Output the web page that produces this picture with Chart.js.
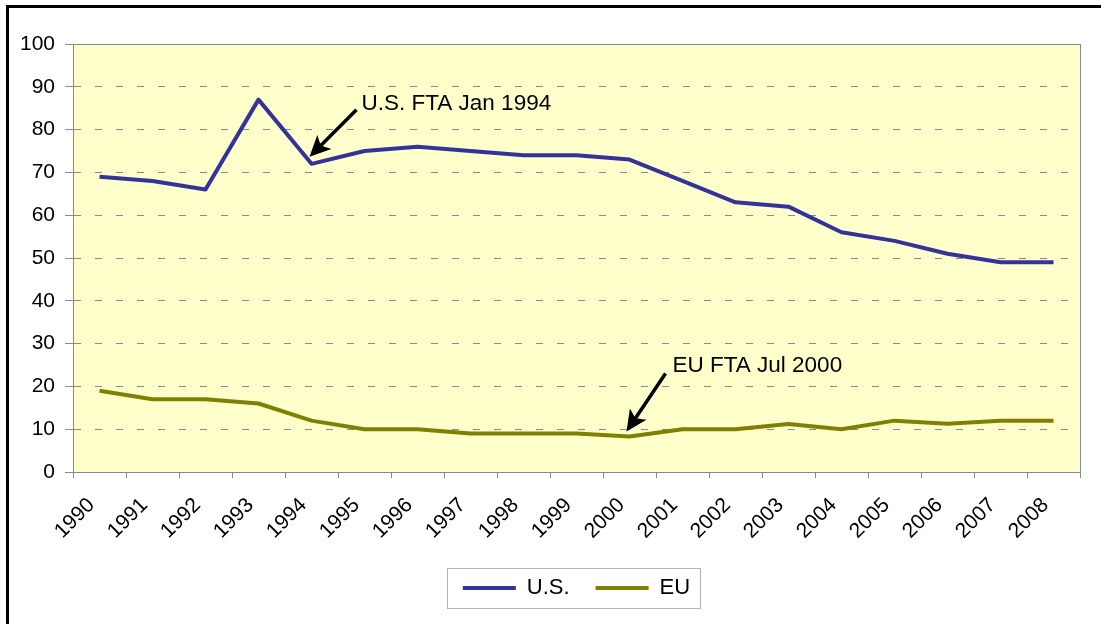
<!DOCTYPE html>
<html>
<head>
<meta charset="utf-8">
<script src="https://cdn.jsdelivr.net/npm/chart.js@4/dist/chart.umd.min.js"></script>
<style>
    html, body { margin: 0; padding: 0; background: #fff; }
    #wrap { position: relative; width: 1101px; height: 624px; overflow: hidden; }
    #frame { position: absolute; left: 6px; top: 5px; width: 1200px; height: 700px;
             border-left: 3px solid #000; border-top: 3px solid #000; pointer-events: none; }
    canvas { position: absolute; left: 0; top: 0; }
</style>
</head>
<body>
<div id="wrap">
    <canvas id="shareChart" width="1101" height="624"></canvas>
    <div id="frame"></div>
</div>
<script>
// Data
const years = ['1990', '1991', '1992', '1993', '1994', '1995', '1996', '1997', '1998', '1999',
               '2000', '2001', '2002', '2003', '2004', '2005', '2006', '2007', '2008'];
const usShare = [69, 68, 66, 87, 72, 75, 76, 75, 74, 74, 73, 68, 63, 62, 56, 54, 51, 49, 49];
const euShare = [19, 17, 17, 16, 12, 10, 10, 9, 9, 9, 8.3, 10, 10, 11.2, 10, 12, 11.3, 12, 12];
const yMin = 0;
const yMax = 100;
const yStep = 10;

// Annotation texts and which point each arrow points at
const notes = [
    { text: 'U.S. FTA Jan 1994', dataset: 0, year: '1994' },
    { text: 'EU FTA Jul 2000', dataset: 1, year: '2000' }
];
// pixel offsets (tip, tail, label) relative to the pointed data point
const noteLayout = [
    { tip: [-2, -7], tail: [45, -54], label: [50, -60] },
    { tip: [-3, -5], tail: [36, -63], label: [43, -71] }
];

const FONT = "'Liberation Sans', Arial, sans-serif";
const AXIS_GRAY = '#8a8a8a';

// Pale yellow plot area with a thin grey frame
const plotArea = {
    id: 'plotArea',
    beforeDraw(chart) {
        const { ctx, chartArea: a } = chart;
        ctx.save();
        ctx.fillStyle = '#FFFFCC';
        ctx.fillRect(a.left, a.top, a.right - a.left, a.bottom - a.top);
        ctx.restore();
    },
    beforeDatasetsDraw(chart) {
        const { ctx, chartArea: a } = chart;
        ctx.save();
        ctx.strokeStyle = AXIS_GRAY;
        ctx.lineWidth = 1;
        ctx.strokeRect(a.left + 0.5, a.top + 0.5, a.right - a.left, a.bottom - a.top);
        ctx.restore();
    }
};

// Arrows with their labels
const arrowNotes = {
    id: 'arrowNotes',
    afterDatasetsDraw(chart) {
        const { ctx } = chart;
        const xs = chart.scales.x, ys = chart.scales.y;
        notes.forEach((n, i) => {
            const lay = noteLayout[i];
            const idx = years.indexOf(n.year);
            const val = chart.data.datasets[n.dataset].data[idx];
            const px = xs.getPixelForValue(idx), py = ys.getPixelForValue(val);
            const tipX = px + lay.tip[0], tipY = py + lay.tip[1];
            const tailX = px + lay.tail[0], tailY = py + lay.tail[1];
            const ang = Math.atan2(tipY - tailY, tipX - tailX);
            const cos = Math.cos(ang), sin = Math.sin(ang);
            const headLen = 21, headHalf = 10, notch = 5;
            ctx.save();
            ctx.strokeStyle = '#000';
            ctx.fillStyle = '#000';
            ctx.lineWidth = 3.5;
            ctx.beginPath();
            ctx.moveTo(tailX, tailY);
            ctx.lineTo(tipX - cos * (headLen - notch), tipY - sin * (headLen - notch));
            ctx.stroke();
            const bx = tipX - cos * headLen, by = tipY - sin * headLen;
            ctx.beginPath();
            ctx.moveTo(tipX, tipY);
            ctx.lineTo(bx + sin * headHalf, by - cos * headHalf);
            ctx.lineTo(tipX - cos * (headLen - notch), tipY - sin * (headLen - notch));
            ctx.lineTo(bx - sin * headHalf, by + cos * headHalf);
            ctx.closePath();
            ctx.fill();
            ctx.font = '22.5px ' + FONT;
            ctx.textAlign = 'left';
            ctx.textBaseline = 'middle';
            ctx.fillText(n.text, px + lay.label[0], py + lay.label[1]);
            ctx.restore();
        });
    }
};

// Grey frame round the legend
const legendFrame = {
    id: 'legendFrame',
    afterDraw(chart) {
        const boxes = chart.legend.legendHitBoxes;
        if (!boxes || !boxes.length) return;
        const first = boxes[0], last = boxes[boxes.length - 1];
        const left = first.left - 16, right = last.left + last.width + 10;
        const mid = first.top + first.height / 2;
        const { ctx } = chart;
        ctx.save();
        ctx.strokeStyle = '#b5b5b5';
        ctx.lineWidth = 1;
        ctx.strokeRect(Math.round(left) + 0.5, Math.round(mid - 20) + 0.5, Math.round(right - left), 40);
        ctx.restore();
    }
};

const ctx = document.getElementById('shareChart').getContext('2d');
new Chart(ctx, {
    type: 'line',
    data: {
        labels: years,
        datasets: [
            {
                label: 'U.S.',
                data: usShare,
                borderColor: '#333399',
                borderWidth: 4,
                pointRadius: 0,
                tension: 0,
                borderJoinStyle: 'round',
                borderCapStyle: 'butt'
            },
            {
                label: 'EU',
                data: euShare,
                borderColor: '#808000',
                borderWidth: 4,
                pointRadius: 0,
                tension: 0,
                borderJoinStyle: 'round',
                borderCapStyle: 'butt'
            }
        ]
    },
    options: {
        responsive: false,
        animation: false,
        layout: { padding: { left: 0, top: 44, right: 21, bottom: 15 } },
        scales: {
            x: {
                offset: true,
                grid: { offset: true, drawOnChartArea: false, tickLength: 6, color: AXIS_GRAY },
                border: { color: AXIS_GRAY },
                ticks: {
                    autoSkip: false,
                    maxRotation: 45,
                    minRotation: 45,
                    padding: 15,
                    labelOffset: -8,
                    color: '#000',
                    font: { family: FONT, size: 21 }
                },
                afterFit: s => { s.height = 79; }
            },
            y: {
                min: yMin,
                max: yMax,
                ticks: {
                    stepSize: yStep,
                    padding: 10,
                    color: '#000',
                    font: { family: FONT, size: 21 }
                },
                grid: { color: AXIS_GRAY, tickLength: 8 },
                border: { color: AXIS_GRAY, dash: [7, 14] },
                afterFit: s => { s.width = 73; }
            }
        },
        plugins: {
            tooltip: { enabled: false },
            legend: {
                position: 'bottom',
                fullSize: false,
                labels: {
                    boxWidth: 53,
                    boxHeight: 4,
                    padding: 26,
                    color: '#000',
                    font: { family: FONT, size: 22 },
                    generateLabels: chart => chart.data.datasets.map((d, i) => ({
                        text: d.label,
                        fillStyle: d.borderColor,
                        strokeStyle: d.borderColor,
                        lineWidth: 0,
                        hidden: false,
                        datasetIndex: i
                    }))
                }
            }
        }
    },
    plugins: [plotArea, arrowNotes, legendFrame]
});
</script>
</body>
</html>
